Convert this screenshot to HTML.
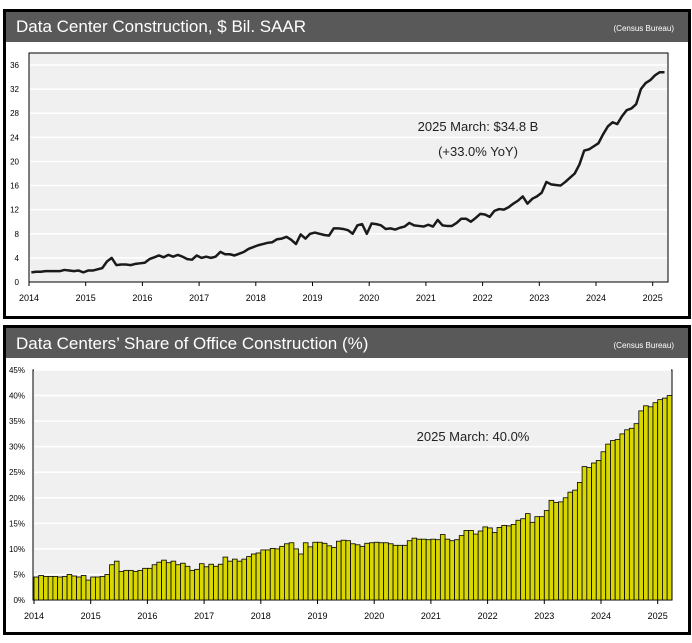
<!DOCTYPE html>
<html><head><meta charset="utf-8"><style>
body{margin:0;background:#fff;width:692px;height:638px;overflow:hidden;font-family:"Liberation Sans",sans-serif}
svg text{font-family:"Liberation Sans",sans-serif}
</style></head><body>
<svg id="s" width="692" height="638" xmlns="http://www.w3.org/2000/svg">
<rect x="4.5" y="10.5" width="685" height="307" fill="#fff" stroke="#000" stroke-width="3"/>
<rect x="6" y="12" width="682" height="30" fill="#595959"/>
<text x="16" y="32" fill="#fff" font-size="17">Data Center Construction, $ Bil. SAAR</text>
<text x="674" y="31" fill="#fff" font-size="8" text-anchor="end">(Census Bureau)</text>
<rect x="4.5" y="326.5" width="685" height="307" fill="#fff" stroke="#000" stroke-width="3"/>
<rect x="6" y="328" width="682" height="30" fill="#595959"/>
<text x="16" y="349" fill="#fff" font-size="17">Data Centers’ Share of Office Construction (%)</text>
<text x="674" y="348" fill="#fff" font-size="8" text-anchor="end">(Census Bureau)</text>
<g id="top"></g><g id="bot"></g>
</svg>
<script>
const years=["2014","2015","2016","2017","2018","2019","2020","2021","2022","2023","2024","2025"];
const topTicks=[0,4,8,12,16,20,24,28,32,36];
const botTicks=[0,5,10,15,20,25,30,35,40,45];
const spending=[1.6,1.7,1.7,1.8,1.8,1.8,1.8,2.0,1.9,1.8,1.9,1.6,
1.9,1.9,2.1,2.3,3.4,4.0,2.8,2.9,2.9,2.8,3.0,3.1,
3.2,3.8,4.1,4.4,4.1,4.5,4.2,4.5,4.2,3.8,3.7,4.4,
4.0,4.2,4.0,4.2,5.0,4.6,4.6,4.4,4.7,5.0,5.5,5.8,
6.1,6.3,6.5,6.6,7.1,7.2,7.5,7.0,6.3,7.9,7.2,8.0,
8.2,8.0,7.8,7.7,8.9,8.9,8.8,8.6,8.0,9.4,9.6,8.0,
9.7,9.6,9.4,8.8,8.9,8.7,9.0,9.2,9.8,9.4,9.3,9.2,
9.5,9.2,10.3,9.4,9.3,9.3,9.8,10.5,10.5,10.0,10.6,11.3,
11.2,10.8,11.8,12.1,12.0,12.4,13.0,13.5,14.2,13.0,13.8,14.2,
14.8,16.6,16.2,16.1,16.0,16.6,17.3,18.0,19.5,21.8,22.0,22.5,
23.0,24.5,25.8,26.5,26.2,27.5,28.5,28.8,29.5,32.0,33.0,33.5,
34.3,34.8,34.8];
const share=[4.5,4.8,4.6,4.6,4.6,4.5,4.6,5.0,4.7,4.5,4.8,3.9,
4.5,4.5,4.6,5.0,6.9,7.6,5.6,5.8,5.8,5.6,5.8,6.2,
6.2,6.9,7.4,7.8,7.3,7.6,6.9,7.2,6.6,5.8,6.0,7.1,
6.5,7.0,6.6,7.0,8.4,7.6,8.0,7.6,8.0,8.5,9.0,9.2,
9.8,9.8,10.1,10.0,10.5,11.0,11.2,10.0,9.0,11.2,10.4,11.3,
11.3,11.1,10.6,10.3,11.5,11.7,11.6,11.0,10.8,10.5,11.1,11.2,
11.3,11.2,11.2,11.0,10.7,10.7,10.7,11.6,12.1,11.9,11.9,11.8,
11.9,11.8,12.8,11.9,11.6,11.8,12.6,13.6,13.6,12.9,13.5,14.3,
14.1,13.2,14.2,14.6,14.5,14.8,15.6,15.9,16.9,15.2,16.3,16.3,
17.5,19.5,19.1,19.2,20.0,21.1,21.5,23.0,26.1,25.9,26.8,27.3,
29.0,30.5,31.2,31.4,32.5,33.3,33.6,34.5,37.0,38.0,37.8,38.6,
39.2,39.5,40.0];
const NS="http://www.w3.org/2000/svg";
function mk(p,t,a){const e=document.createElementNS(NS,t);for(const k in a)e.setAttribute(k,a[k]);p.appendChild(e);return e;}

// top chart
const T={x0:29,x1:668,y0:53,y1:282,yMax:36/((282-65)/(282-53))};
const tg=document.getElementById('top');
const txm=m=>29+m*(56.7/12);
const tY=v=>282-v*((282-65)/36);
let r=mk(tg,'rect',{x:29,y:53,width:639,height:229,fill:'#f0f0f0',stroke:'#000','stroke-width':1});


topTicks.forEach(v=>{
 if(v>0){const l=mk(tg,'line',{x1:30,x2:667,y1:tY(v),y2:tY(v),stroke:'#fff','stroke-width':1.5});
 
 }
 const t=mk(tg,'text',{x:19,y:tY(v)+3,'font-size':8,'text-anchor':'end',fill:'#000'});t.textContent=v;
 
 
});
years.forEach((y,i)=>{const x=txm(i*12);
 const l=mk(tg,'line',{x1:x,x2:x,y1:282,y2:286,stroke:'#000'});
 
 
 const t=mk(tg,'text',{x:x,y:301,'font-size':9,'text-anchor':'middle'});t.textContent=y;
 
 });
const pl=mk(tg,'polyline',{points:spending.map((v,i)=>txm(i+0.5)+','+tY(v)).join(' '),fill:'none',stroke:'#1a1a1a','stroke-width':2.5,'stroke-linejoin':'round'});


let a=mk(tg,'text',{x:478,y:131,'font-size':13,'text-anchor':'middle',fill:'#222'});a.textContent='2025 March: $34.8 B';


a=mk(tg,'text',{x:478,y:156,'font-size':13,'text-anchor':'middle',fill:'#222'});a.textContent='(+33.0% YoY)';



// bottom chart
const bg=document.getElementById('bot');
const bx=m=>34+m*(56.7/12);
const bY=v=>600-v*(230/45);
r=mk(bg,'rect',{x:33,y:370,width:639,height:230,fill:'#f0f0f0',stroke:'#000','stroke-width':1});


botTicks.forEach(v=>{
 if(v>0){const l=mk(bg,'line',{x1:34,x2:671,y1:bY(v),y2:bY(v),stroke:'#fff','stroke-width':1.5});
 
 }
 const t=mk(bg,'text',{x:25,y:bY(v)+3,'font-size':8,'text-anchor':'end'});t.textContent=v+'%';
 
 
});
const bw=56.7/12;
share.forEach((v,i)=>{const b=mk(bg,'rect',{x:bx(i),y:bY(v),width:bw,height:600-bY(v),fill:'#d8d800',stroke:'#000','stroke-width':0.8});
 
 });
years.forEach((y,i)=>{const x=bx(i*12);
 const l=mk(bg,'line',{x1:x,x2:x,y1:600,y2:604,stroke:'#000'});
 
 
 const t=mk(bg,'text',{x:x,y:619,'font-size':9,'text-anchor':'middle'});t.textContent=y;
 
 });
a=mk(bg,'text',{x:473,y:441,'font-size':13,'text-anchor':'middle',fill:'#222'});a.textContent='2025 March: 40.0%';


</script>
</body></html>
